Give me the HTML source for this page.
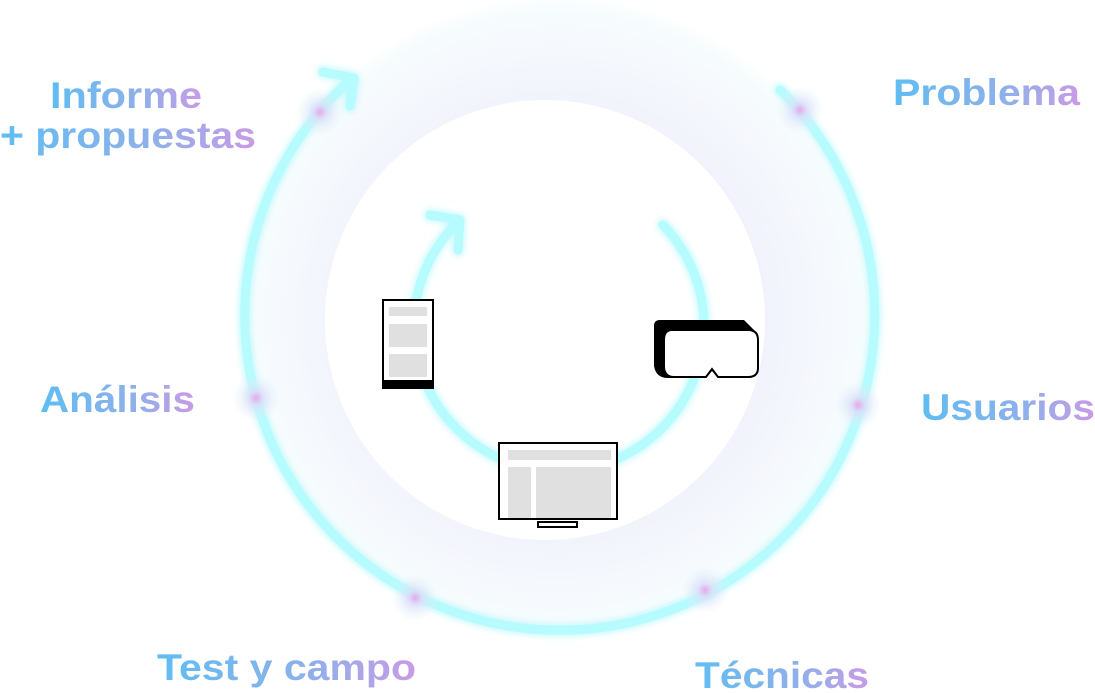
<!DOCTYPE html>
<html><head><meta charset="utf-8"><style>
html,body{margin:0;padding:0;background:#fff;width:1095px;height:693px;overflow:hidden}
svg{display:block}
text{font-family:"Liberation Sans",sans-serif;font-weight:bold;font-size:37px}
</style></head><body>
<svg width="1095" height="693" viewBox="0 0 1095 693">
<defs>
<linearGradient id="tg" x1="0" y1="0" x2="1" y2="0">
<stop offset="0" stop-color="#5fbdf2"/><stop offset="0.6" stop-color="#8fb0ea"/><stop offset="1" stop-color="#c99be6"/>
</linearGradient>
<radialGradient id="ring" cx="557" cy="318" r="322" gradientUnits="userSpaceOnUse">
<stop offset="0.6" stop-color="#f0f1fc"/><stop offset="0.8" stop-color="#f5f7fd"/><stop offset="0.95" stop-color="#f6fcfd"/><stop offset="1" stop-color="#ffffff"/>
</radialGradient>
<radialGradient id="dot">
<stop offset="0" stop-color="#e6a8ea"/><stop offset="0.3" stop-color="#dcdcf8" stop-opacity="0.8"/><stop offset="1" stop-color="#e0f4fb" stop-opacity="0"/>
</radialGradient>
<filter id="glow" x="-20%" y="-20%" width="140%" height="140%"><feGaussianBlur stdDeviation="3"/></filter>
</defs>
<circle cx="557" cy="318" r="322" fill="url(#ring)"/>
<circle cx="545" cy="320" r="220" fill="#fff"/>

<g fill="none" stroke-linecap="round" stroke-linejoin="round">
<g stroke="#8ff4fa" stroke-width="13" opacity="0.45" filter="url(#glow)">
<path d="M780 90 A315 315 0 1 1 348 82"/>
<path d="M323 72 L354 78 L350 106"/>
<path d="M663 225 A145 145 0 1 1 458 222"/>
<path d="M430 215 L460 220 L458 250"/>
</g>
<g stroke="#b6fbfd" stroke-width="9">
<path d="M780 90 A315 315 0 1 1 348 82"/>
<path d="M323 72 L354 78 L350 106"/>
<path d="M663 225 A145 145 0 1 1 458 222"/>
<path d="M430 215 L460 220 L458 250"/>
</g>
</g>

<g fill="url(#dot)">
<circle cx="320" cy="112" r="24"/><circle cx="800" cy="110" r="24"/>
<circle cx="858" cy="405" r="24"/><circle cx="256" cy="398" r="24"/>
<circle cx="415" cy="598" r="24"/><circle cx="705" cy="590" r="24"/>
</g>

<rect x="383" y="300" width="50" height="88" fill="#fff" stroke="#000" stroke-width="2"/>
<rect x="383" y="380" width="50" height="9" fill="#000"/>
<rect x="389" y="307" width="38" height="9" fill="#e0e0e0"/>
<rect x="389" y="324" width="38" height="23" fill="#e0e0e0"/>
<rect x="389" y="354" width="38" height="23" fill="#e0e0e0"/>

<path d="M658 320 H744 L758 334 V368 Q758 378 748 378 H718 L712 371 L706 378 H668 Q656 378 654 366 V326 Q654 320 660 320 Z" fill="#000"/>
<path d="M672 330 H748 Q758 330 758 340 V368 Q758 377 748 377 H718 L712 369 L706 377 H674 Q664 377 664 366 V340 Q664 330 672 330 Z" fill="#fff" stroke="#000" stroke-width="2"/>

<rect x="499" y="443" width="118" height="76" fill="#fff" stroke="#000" stroke-width="2"/>
<rect x="508" y="450" width="103" height="10" fill="#e0e0e0"/>
<rect x="508" y="467" width="23" height="51" fill="#e0e0e0"/>
<rect x="536" y="467" width="75" height="51" fill="#e0e0e0"/>
<rect x="538" y="522" width="39" height="5" fill="#fff" stroke="#000" stroke-width="2"/>

<text x="50" y="108" fill="url(#tg)" textLength="152" lengthAdjust="spacingAndGlyphs">Informe</text>
<text x="0" y="148" fill="url(#tg)" textLength="256" lengthAdjust="spacingAndGlyphs">+ propuestas</text>
<text x="893" y="105" fill="url(#tg)" textLength="187" lengthAdjust="spacingAndGlyphs">Problema</text>
<text x="921" y="420" fill="url(#tg)" textLength="174" lengthAdjust="spacingAndGlyphs">Usuarios</text>
<text x="40" y="412" fill="url(#tg)" textLength="155" lengthAdjust="spacingAndGlyphs">Análisis</text>
<text x="157" y="680" fill="url(#tg)" textLength="259" lengthAdjust="spacingAndGlyphs">Test y campo</text>
<text x="695" y="688" fill="url(#tg)" textLength="174" lengthAdjust="spacingAndGlyphs">Técnicas</text>
</svg>
</body></html>
